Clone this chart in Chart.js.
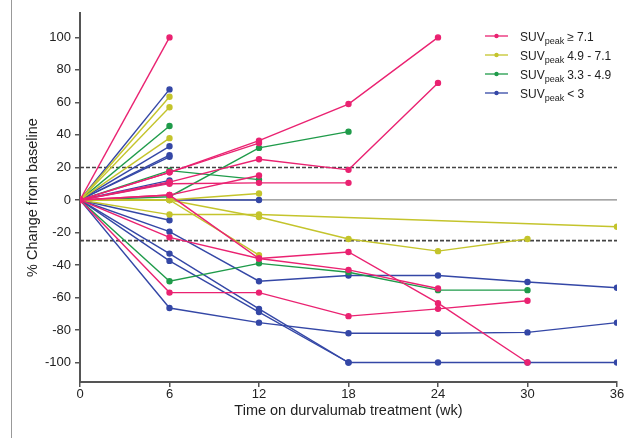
<!DOCTYPE html>
<html>
<head>
<meta charset="utf-8">
<script src="https://cdn.jsdelivr.net/npm/chart.js@4"></script>
<style>
  html, body { margin: 0; padding: 0; background: #fff; }
  #wrap { position: relative; width: 637px; height: 438px; }
  #wrap:before { content: ''; position: absolute; left: 11px; top: 0; bottom: 0; border-left: 1px solid #999; }
</style>
</head>
<body>
<div id="wrap"><canvas id="chart" width="637" height="438"></canvas></div>
<script>
// weeks of each scan, values are % change from baseline per patient
const weeks = [0, 6, 12, 18, 24, 30, 36];
const yTicks = [-100, -80, -60, -40, -20, 0, 20, 40, 60, 80, 100];
const thresholds = [20, -25];

const suvHigh = [
  [0, 100],
  [0, 17, 36.5, 59, 100],
  [0, 17, 35],
  [0, 11, 25, 18.5, 72],
  [0, 10, 10.5, 10.5],
  [0, 3, 15],
  [0, 3, -36, -43, -54.5],
  [0, -23, -36, -32, -63.5, -100],
  [0, -57, -57, -71.5, -67, -62],
];
const suvMidHigh = [
  [0, 63.5],
  [0, 57],
  [0, 38],
  [0, 0, 4],
  [0, 0, -10.5, -24, -31.5, -24],
  [0, -9, -9, null, null, null, -16.5],
  [0, 0, -34],
];
const suvMidLow = [
  [0, 45.5],
  [0, 18, 12.5],
  [0, 2, 32, 42],
  [0, -50, -39, -44.5, -55.5, -55.5],
];
const suvLow = [
  [0, 68],
  [0, 33],
  [0, 27.5],
  [0, 26.5],
  [0, 12],
  [0, 10.5],
  [0, 0, 0],
  [0, -12.5],
  [0, -19.5, -50, -46.5, -46.5, -50.5, -54],
  [0, -33, -67, -100, -100, -100, -100],
  [0, -37.5, -69, -100],
  [0, -66.5, -75.5, -82, -82, -81.5, -75.5],
];

const groupLabels = ['\u2265 7.1', '4.9 - 7.1', '3.3 - 4.9', '< 3'];
const groupColors = ['#ea2271', '#c4c42c', '#1f9b4a', '#3447a6'];
const groups = [suvHigh, suvMidHigh, suvMidLow, suvLow];

const FONT = '"Liberation Sans", Arial, sans-serif';

function toPoints(vals) {
  return vals
    .map((v, i) => (v === null || v === undefined ? null : { x: weeks[i], y: v }))
    .filter(Boolean);
}

const datasets = [];
groups.forEach((g, gi) => {
  g.forEach(vals => {
    datasets.push({
      data: toPoints(vals),
      borderColor: groupColors[gi],
      backgroundColor: groupColors[gi],
      borderWidth: 1.4,
      pointRadius: 2.5,
      pointHoverRadius: 2.5,
      order: gi === 0 ? 0 : 1,
    });
  });
});

// baseline and response thresholds
datasets.push({
  data: [{ x: 0, y: 0 }, { x: 36, y: 0 }],
  borderColor: '#888',
  borderWidth: 1.2,
  pointRadius: 0,
  order: 10,
});
thresholds.forEach(t => {
  datasets.push({
    data: [{ x: 0, y: t }, { x: 36.2, y: t }],
    borderColor: '#444',
    borderWidth: 1.6,
    borderDash: [4, 2],
    pointRadius: 0,
    order: 10,
  });
});

const legendPlugin = {
  id: 'suvLegend',
  afterDraw(chart) {
    const ctx = chart.ctx;
    const x0 = 485, x1 = 508, tx = 520;
    ctx.save();
    groupLabels.forEach((lab, i) => {
      const y = 36 + i * 19;
      ctx.strokeStyle = groupColors[i];
      ctx.fillStyle = groupColors[i];
      ctx.lineWidth = 1.3;
      ctx.beginPath();
      ctx.moveTo(x0, y);
      ctx.lineTo(x1, y);
      ctx.stroke();
      ctx.beginPath();
      ctx.arc((x0 + x1) / 2, y, 2.2, 0, Math.PI * 2);
      ctx.fill();

      ctx.fillStyle = '#222';
      ctx.textBaseline = 'alphabetic';
      ctx.font = '12px ' + FONT;
      let x = tx;
      ctx.fillText('SUV', x, y + 4.5);
      x += ctx.measureText('SUV').width;
      ctx.font = '9px ' + FONT;
      ctx.fillText('peak', x, y + 7.5);
      x += ctx.measureText('peak').width + 3;
      ctx.font = '12px ' + FONT;
      ctx.fillText(lab, x, y + 4.5);
    });
    ctx.restore();
  },
};

new Chart(document.getElementById('chart'), {
  type: 'line',
  data: { datasets },
  plugins: [legendPlugin],
  options: {
    responsive: false,
    animation: false,
    spanGaps: true,
    layout: { padding: { left: 0, right: 20, top: 13, bottom: 10 } },
    plugins: { legend: { display: false }, tooltip: { enabled: false } },
    scales: {
      x: {
        type: 'linear',
        min: 0,
        max: 36,
        ticks: { stepSize: 6, color: '#222', font: { size: 13, family: FONT }, padding: 0 },
        grid: { drawOnChartArea: false, drawTicks: true, tickLength: 5, color: '#555', lineWidth: 1.5 },
        border: { color: '#555', width: 2 },
        title: {
          display: true,
          text: 'Time on durvalumab treatment (wk)',
          color: '#222',
          font: { size: 14.5, family: FONT },
          padding: { top: 2, bottom: 8 },
        },
        afterFit: s => { s.height = 46; },
      },
      y: {
        type: 'linear',
        min: -112,
        max: 115,
        afterBuildTicks: s => { s.ticks = yTicks.map(v => ({ value: v })); },
        ticks: { color: '#222', font: { size: 13, family: FONT }, padding: 4 },
        grid: { drawOnChartArea: false, drawTicks: true, tickLength: 5, color: '#555', lineWidth: 1.5 },
        border: { color: '#555', width: 2 },
        title: {
          display: true,
          text: '% Change from baseline',
          color: '#222',
          font: { size: 14.5, family: FONT },
          padding: { top: 24, bottom: 0 },
        },
        afterFit: s => { s.width = 80; },
      },
    },
  },
});
</script>
</body>
</html>
